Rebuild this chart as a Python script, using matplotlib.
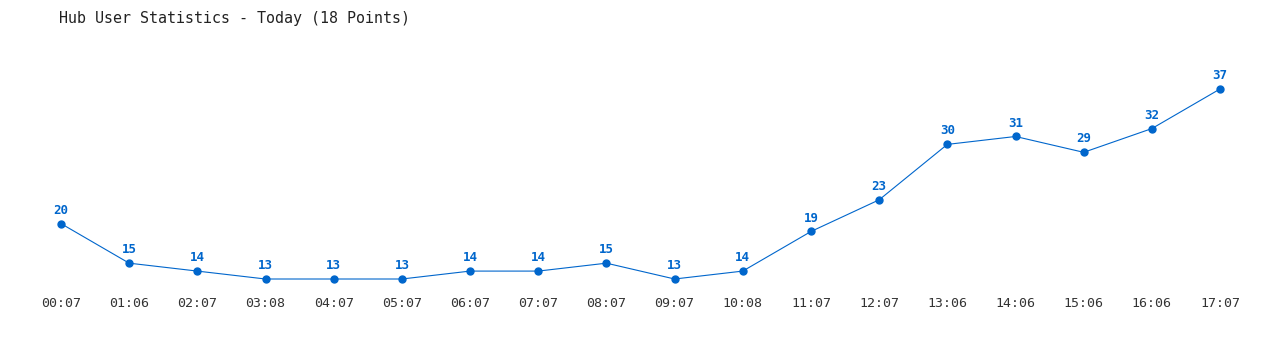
import matplotlib
matplotlib.use("Agg")
import matplotlib.pyplot as plt

# data
times = ["00:07", "01:06", "02:07", "03:08", "04:07", "05:07", "06:07", "07:07", "08:07",
         "09:07", "10:08", "11:07", "12:07", "13:06", "14:06", "15:06", "16:06", "17:07"]
users = [20, 15, 14, 13, 13, 13, 14, 14, 15, 13, 14, 19, 23, 30, 31, 29, 32, 37]

blue = "#0066cc"

fig = plt.figure(figsize=(12.8, 3.5), dpi=100)
ax = fig.add_axes([0.021, 0.1714, 0.9588, 0.6857])

x = list(range(len(users)))
ax.plot(x, users, color=blue, linewidth=0.8, marker="o", markersize=5)

for i, v in enumerate(users):
    ax.annotate(str(v), (i, v), xytext=(0, 5), textcoords="offset points",
                ha="center", va="bottom", color=blue, fontsize=9,
                fontweight="bold", family="DejaVu Sans Mono")

ax.set_xlim(-0.5, len(users) - 0.5)
ax.set_ylim(11.61, 41.92)
ax.set_xticks(x)
ax.set_xticklabels(times, family="DejaVu Sans Mono", fontsize=9.5, color="#333333")
ax.set_yticks([])
ax.tick_params(axis="x", length=0, pad=5)
for s in ax.spines.values():
    s.set_visible(False)

fig.text(0.046, 0.948, "Hub User Statistics - Today (18 Points)", family="DejaVu Sans Mono",
         fontsize=10.8, color="#222222", ha="left", va="center")

fig.savefig("out.png", dpi=100)
